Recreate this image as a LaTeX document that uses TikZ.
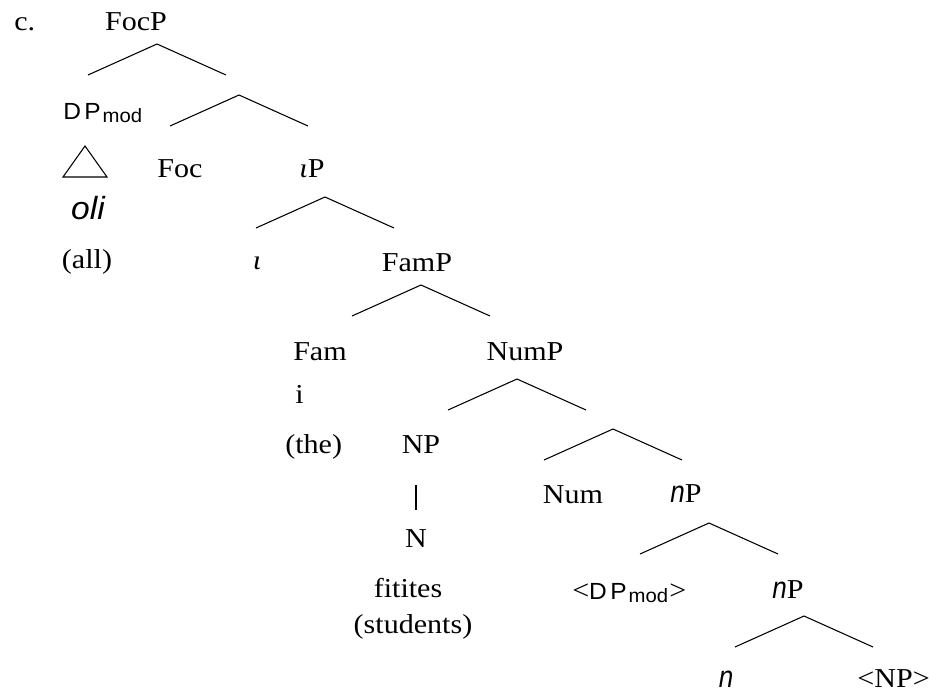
\documentclass[tikz,border=0pt]{standalone}
\usepackage{fontspec}
\setmainfont{Liberation Serif}[FakeStretch=1.1]
\newfontfamily\sansfnt[FakeStretch=1.05]{Liberation Sans}
\newfontfamily\narrowfnt[FakeStretch=0.85]{Liberation Sans}
\usepackage{tikz}
\usetikzlibrary{positioning}
\newcommand\dpmod{{\sansfnt\fontsize{17.5}{20}\selectfont D\kern2.5pt P\kern1.5pt\raisebox{-2.4pt}{\fontsize{14.5}{17}\selectfont mod}}}
\newcommand\itsf[1]{{\sansfnt\itshape\fontsize{24}{28}\selectfont #1}}
\newcommand\itn{{\narrowfnt\itshape\fontsize{23}{27}\selectfont n}}
\tikzset{
  branch/.style={line width=0.8pt,draw=black},
  lab/.style={anchor=base,inner sep=0pt,font=\fontsize{20.5}{24}\selectfont},
  labw/.style={lab,anchor=base west}
}
\begin{document}
\begin{tikzpicture}[x=0.75pt,y=-0.75pt]
  \useasboundingbox (0,0) rectangle (930,693);
  % labels
  \node[labw] (ex) at (14,30) {c.};
  \node[lab] (focp) at (136,30) {FocP};
  \node[labw] (dp) at (63,119) {\dpmod};
  \node[lab] (foc) at (180,177) {Foc};
  \node[lab] (iotap) at (312,177) {{\itshape ι}P};
  \node[lab] (oli) at (88,219) {\itsf{oli}};
  \node[lab] (all) at (87,268) {(all)};
  \node[lab] (iota) at (257,269) {\itshape ι};
  \node[lab] (famp) at (417,271) {FamP};
  \node[labw] (fam) at (293,360) {Fam};
  \node[lab] (nump) at (525,360) {NumP};
  \node[labw] (i) at (295,403) {i};
  \node[labw] (the) at (285,453) {(the)};
  \node[lab] (np) at (421,453) {NP};
  \node[lab] (num) at (573,503) {Num};
  \node[lab] (lnp) at (686,502) {\itn P};
  \node[lab] (nn) at (416,547) {N};
  \node[lab] (fit) at (408,597) {fitites};
  \node[lab] (stud) at (413,633) {(students)};
  \node[labw] (dpt) at (572,599) {<\dpmod\kern1pt>};
  \node[lab] (lnp2) at (788,598) {\itn P};
  \node[lab] (ln) at (726,687) {\itn};
  \node[lab,anchor=base east] (npt) at (930,687) {<NP>};
  % roofs
  \coordinate (r1) at (157,44);
  \coordinate (r2) at (239,95);
  \coordinate (r3) at (325,197);
  \coordinate (r4) at (421,285);
  \coordinate (r5) at (517,379);
  \coordinate (r6) at (613,429);
  \coordinate (r7) at (709,523);
  \coordinate (r8) at (804,616);
  \foreach \r in {r1,r2,r3,r4,r5,r6,r7,r8}
    \draw[branch] ([shift={(-69,31)}]\r) -- (\r) -- ([shift={(69,31)}]\r);
  \draw[branch] (85,146) -- (63,177) -- (107,177) -- cycle;
  \draw[branch,shorten <=24pt,shorten >=14pt] (np.south -| nn.north) -- (nn.north);
\end{tikzpicture}
\end{document}
